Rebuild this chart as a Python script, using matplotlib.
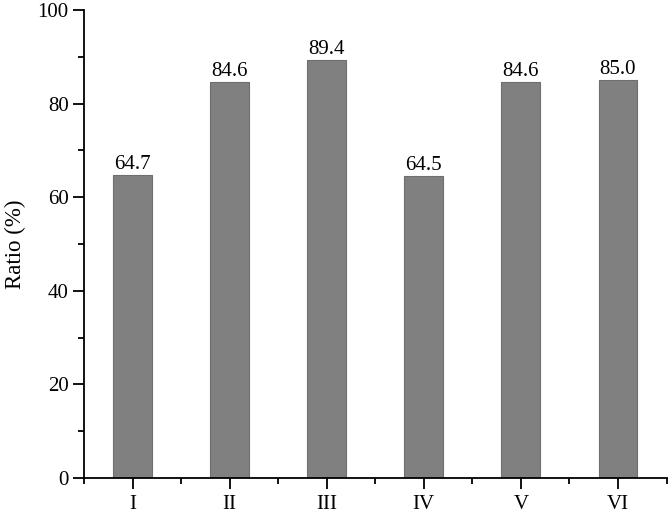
import matplotlib.pyplot as plt
from matplotlib.ticker import MultipleLocator, FixedLocator

plt.rcParams['font.family'] = ['Liberation Serif', 'DejaVu Serif']

groups = ['I', 'II', 'III', 'IV', 'V', 'VI']
ratio = [64.7, 84.6, 89.4, 64.5, 84.6, 85.0]

fig = plt.figure(figsize=(6.7, 5.13), dpi=100)
ax = fig.add_axes([0.1254, 0.0682, 0.8694, 0.9123])

x = list(range(len(groups)))
ax.bar(x, ratio, width=0.4, color='#808080', edgecolor='#6e6e6e', linewidth=0.8)
for xi, v in zip(x, ratio):
    ax.text(xi, v + 0.2, f'{v:.1f}', ha='center', va='bottom', fontsize=15)

ax.set_xlim(-0.5, len(groups) - 0.5)
ax.set_ylim(0, 100)
ax.set_xticks(x)
ax.set_xticklabels(groups)
ax.xaxis.set_minor_locator(FixedLocator([i + 0.5 for i in range(-1, len(groups))]))
ax.yaxis.set_major_locator(MultipleLocator(20))
ax.yaxis.set_minor_locator(MultipleLocator(10))

for s in ['top', 'right']:
    ax.spines[s].set_visible(False)
for s in ['left', 'bottom']:
    ax.spines[s].set_linewidth(1.3)

ax.tick_params(which='major', direction='out', length=8, width=1.3, labelsize=15)
ax.tick_params(which='minor', direction='out', length=4.5, width=1.3)
ax.tick_params(axis='x', pad=4)
ax.tick_params(axis='y', pad=3)
ax.set_ylabel('Ratio (%)', fontsize=16.5)
ax.yaxis.set_label_coords(-0.1, 0.5)

fig.savefig('out.png', dpi=100)
